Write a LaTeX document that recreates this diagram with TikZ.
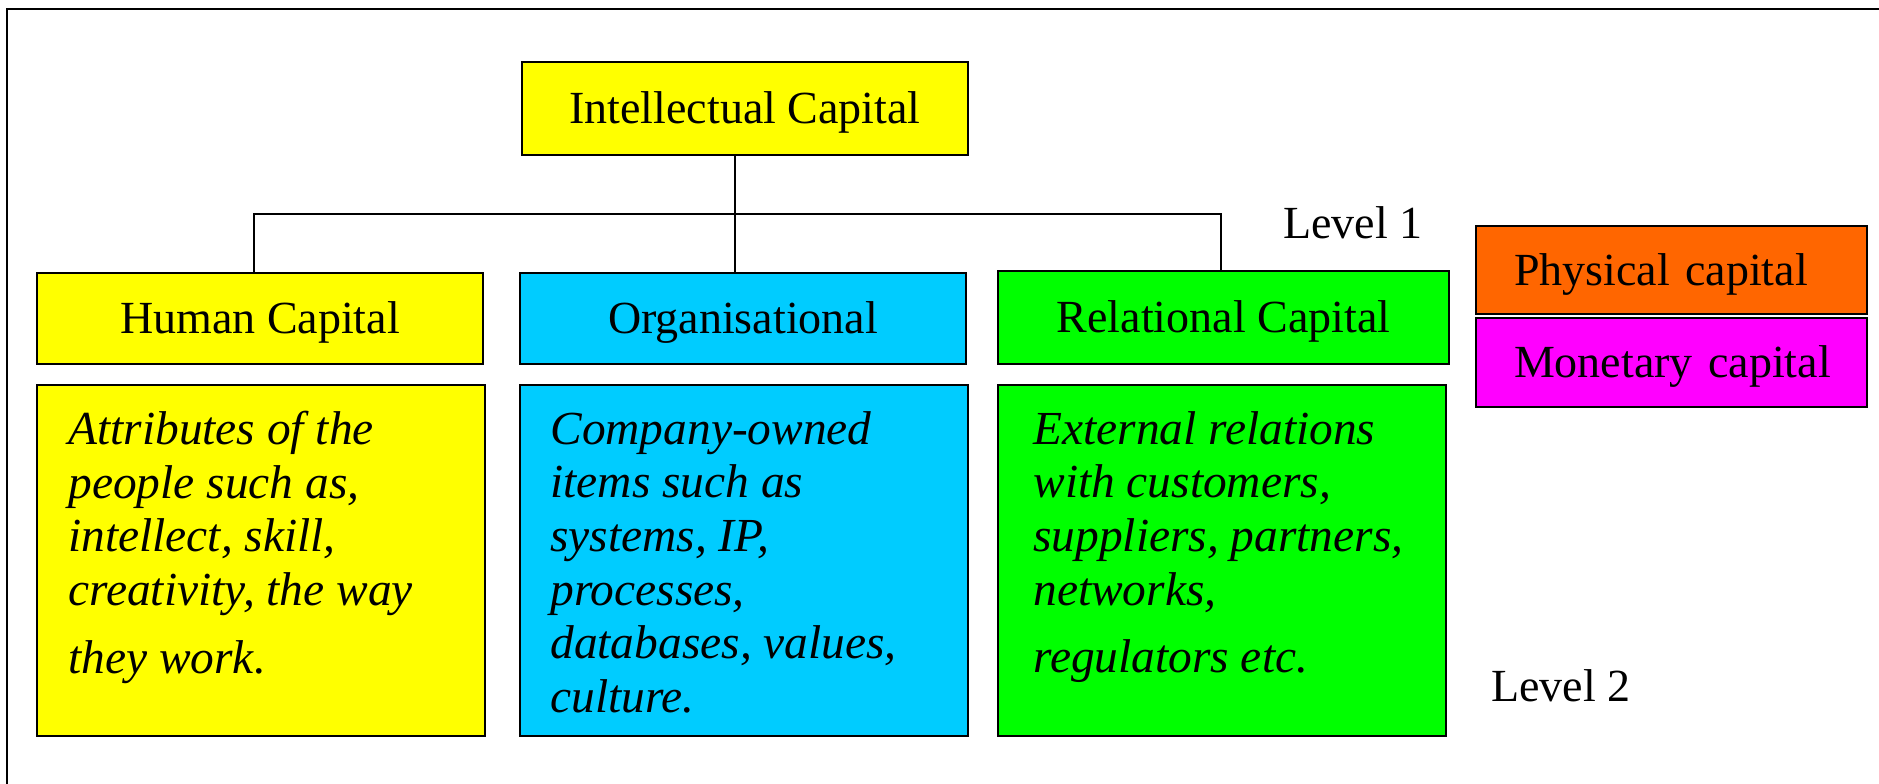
\documentclass[tikz,border=0pt]{standalone}
\usepackage{fontspec}
\setmainfont{Liberation Serif}
\definecolor{icyellow}{HTML}{FFFF00}
\definecolor{iccyan}{HTML}{00CCFF}
\definecolor{icgreen}{HTML}{00FF00}
\definecolor{icorange}{HTML}{FF6600}
\definecolor{icmagenta}{HTML}{FF00FF}
\begin{document}
\begin{tikzpicture}[x=0.5pt,y=-0.5pt,
  box/.style={draw=black, line width=1.2pt, inner sep=0pt},
  lonebox/.style={box, font=\fontsize{23}{27}\selectfont, text height=15pt, text depth=0pt},
  sidebox/.style={lonebox, inner xsep=0pt, text width=195.5pt, align=left, minimum width=195.5pt},
  desctext/.style={anchor=north west, inner sep=0pt, align=left, font=\fontsize{23.7}{26.8}\selectfont\itshape},
  lvl/.style={anchor=base west, inner sep=0pt, font=\fontsize{23}{27}\selectfont},
  conn/.style={draw=black, line width=1.1pt}]
\useasboundingbox (0,0) rectangle (1879,783);
\clip (0,0) rectangle (1879,783);
\fill[white] (0,0) rectangle (1879,783);
\draw[line width=1.1pt] (7,9) rectangle (1900,800);

\node[lonebox, fill=icyellow, minimum width=223pt, minimum height=46.5pt] (IC) at (745,108.5) {Intellectual Capital};
\node[lonebox, fill=icyellow, minimum width=223pt, minimum height=45.5pt] (HC) at (260,318.5) {Human Capital};
\node[lonebox, fill=iccyan, minimum width=223pt, minimum height=45.5pt] (OC) at (743,318.5) {Organisational};
\node[lonebox, fill=icgreen, minimum width=225.5pt, minimum height=46.5pt] (RC) at (1223.5,317.5) {Relational Capital};
\node[sidebox, fill=icorange, minimum height=44pt] (PC) at (1671.5,270) {\hspace*{19pt}Physical capital};
\node[sidebox, fill=icmagenta, minimum height=44.5pt] (MC) at (1671.5,362.5) {\hspace*{19pt}Monetary capital};

\node[box, fill=icyellow, minimum width=224pt, minimum height=175.5pt] (HD) at (261,560.5) {};
\node[box, fill=iccyan, minimum width=224pt, minimum height=175.5pt] (OD) at (744,560.5) {};
\node[box, fill=icgreen, minimum width=224pt, minimum height=175.5pt] (RD) at (1222,560.5) {};

\node[desctext] (HDt) at (68,411) {Attributes of the\\people such as,\\intellect, skill,\\creativity, the way\\[7pt]they work.};
\node[desctext] (ODt) at (550,411) {Company-owned\\items such as\\systems, IP,\\processes,\\databases, values,\\culture.};
\node[desctext] (RDt) at (1033,411) {External relations\\with customers,\\suppliers, partners,\\networks,\\[7pt]regulators etc.};

\node[lvl] (L1) at (1283,238) {Level 1};
\node[lvl] (L2) at (1491,701) {Level 2};

\coordinate (J) at (735,214);
\coordinate (HL) at (254,214);
\coordinate (HR) at (1221,214);
\draw[conn] (IC.south -| J) -- (OC.north -| J);
\draw[conn] (HC.north -| HL) -- (HL) -- (HR) -- (RC.north -| HR);
\end{tikzpicture}
\end{document}
